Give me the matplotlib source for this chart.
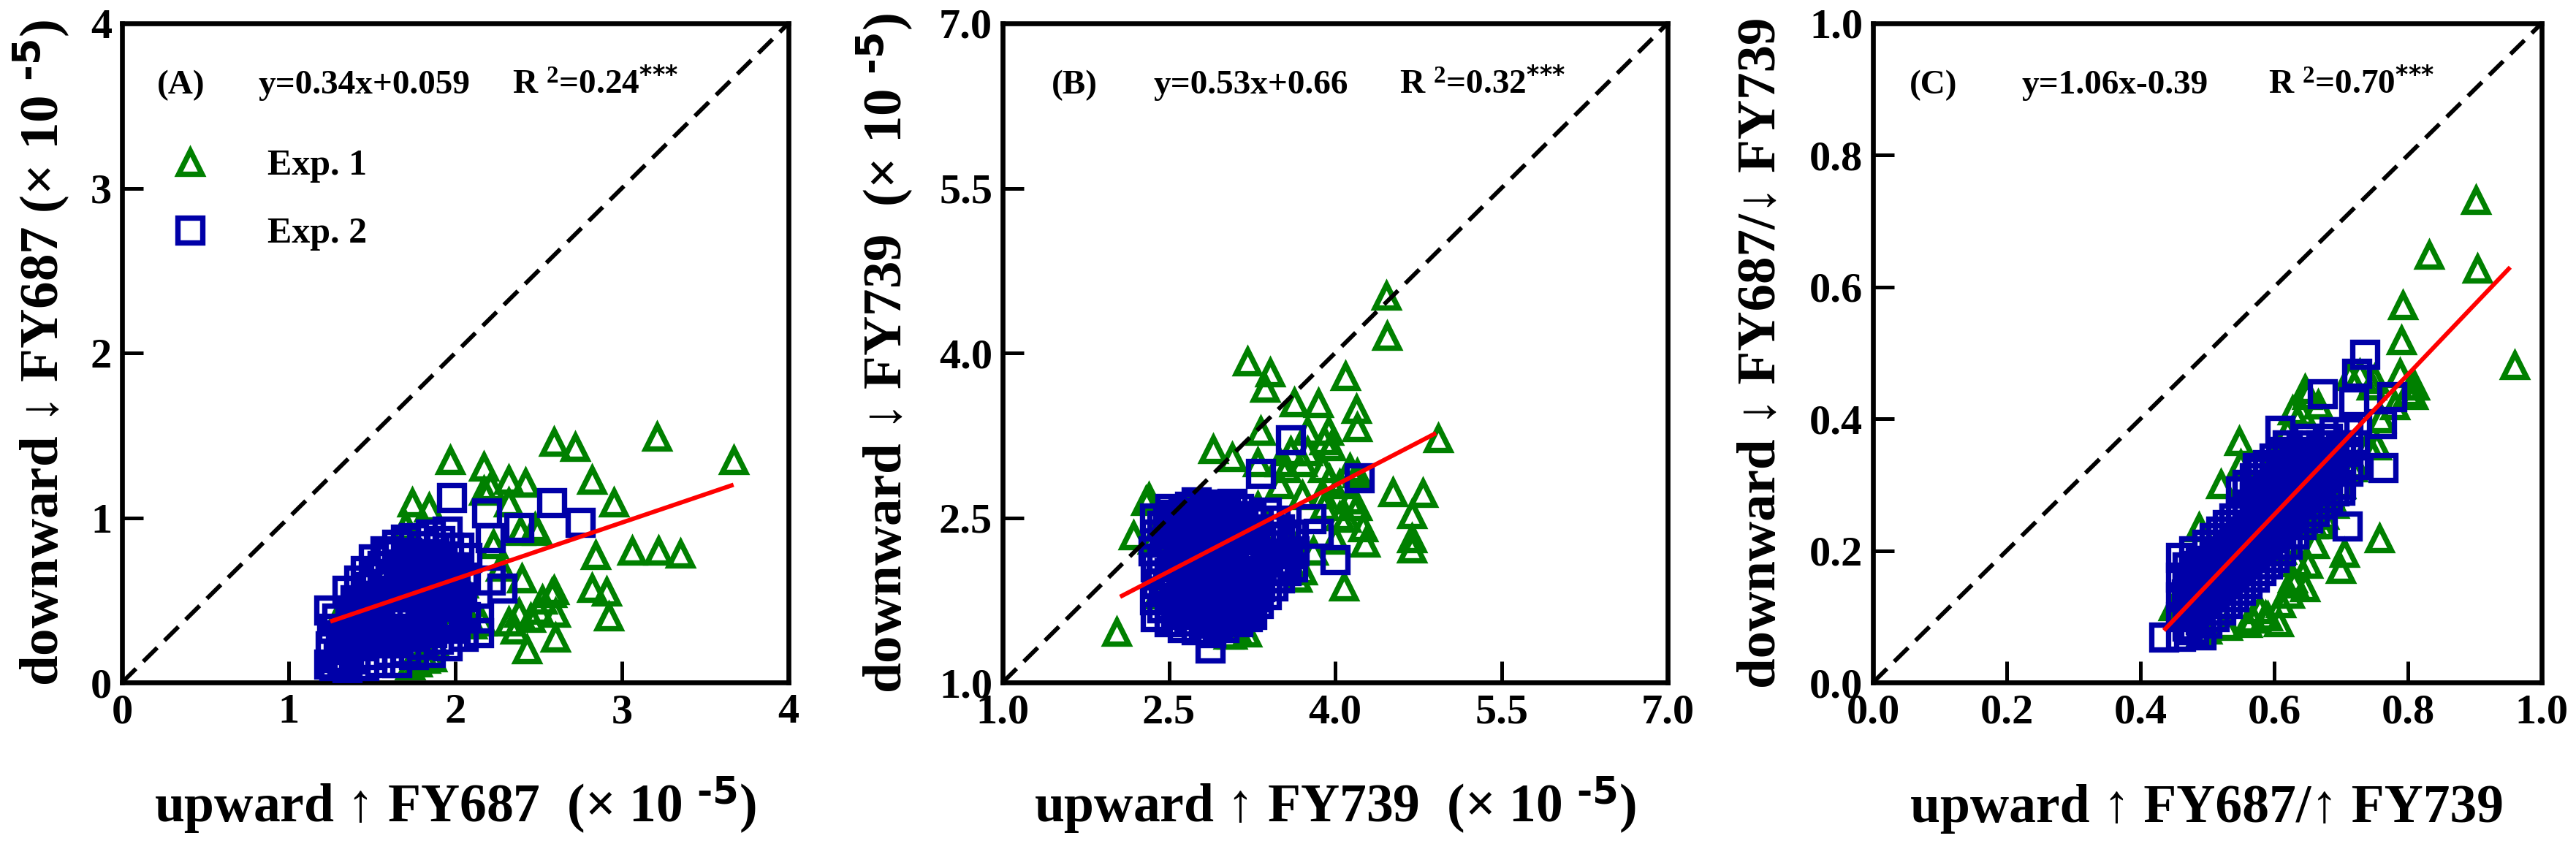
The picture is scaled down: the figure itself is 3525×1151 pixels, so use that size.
import matplotlib
matplotlib.use('Agg')
import matplotlib.pyplot as plt

plt.rcParams['font.family'] = ['Liberation Serif', 'DejaVu Serif']
plt.rcParams['font.weight'] = 'bold'
plt.rcParams['mathtext.default'] = 'regular'

GREEN = '#008000'
BLUE = '#0000a8'

# ---------------- Panel A data ----------------
A_exp1_x = [3.21, 3.67, 2.59, 2.72, 1.97, 2.17, 2.32, 2.42, 2.82, 2.95, 1.74, 1.84,
            3.06, 3.22, 3.35, 2.84, 2.82, 2.91, 2.92, 2.43, 2.60, 2.59, 2.50, 2.40,
            2.48, 2.32, 2.16, 1.73, 1.82, 1.88, 2.17, 2.21, 2.32, 2.23, 2.38, 2.45,
            2.60, 2.58, 2.36, 1.99, 1.77, 1.86, 2.39, 2.49, 1.30, 1.45, 1.60, 1.70,
            2.05, 2.10, 2.27, 2.52]
A_exp1_y = [1.49, 1.35, 1.46, 1.43, 1.35, 1.31, 1.23, 1.21, 1.23, 1.09, 1.09, 1.06,
            0.80, 0.80, 0.78, 0.77, 0.57, 0.55, 0.40, 0.20, 0.27, 0.56, 0.44, 0.63,
            0.94, 0.37, 0.37, 0.10, 0.14, 0.22, 1.16, 1.19, 1.09, 0.84, 0.42, 0.39,
            0.42, 0.54, 0.32, 0.39, 0.12, 0.15, 0.92, 0.92, 0.40, 0.50, 0.70, 0.95,
            0.60, 0.35, 0.70, 0.50]
A_exp2_x = [1.98, 2.19, 2.58, 2.75, 2.38, 2.21, 2.14, 2.14, 2.28, 2.21, 1.24, 1.32,
            1.25, 1.26, 1.24, 1.27,
            1.35, 1.36, 1.34, 1.37, 1.35,
            1.45, 1.44, 1.46, 1.45, 1.47, 1.46,
            1.55, 1.56, 1.54, 1.55, 1.57, 1.56, 1.58,
            1.65, 1.66, 1.64, 1.65, 1.67, 1.66, 1.65,
            1.75, 1.76, 1.74, 1.75, 1.77, 1.76, 1.75,
            1.85, 1.86, 1.84, 1.85, 1.87, 1.86, 1.85,
            1.95, 1.96, 1.94, 1.95, 1.97, 1.96, 1.95,
            2.05, 2.06, 2.04, 2.05, 2.07,
            1.30, 1.31, 1.29,
            1.40, 1.41, 1.39, 1.40, 1.42,
            1.50, 1.51, 1.49, 1.50, 1.52, 1.51,
            1.60, 1.61, 1.59, 1.60, 1.62, 1.61,
            1.70, 1.71, 1.69, 1.70, 1.72, 1.71, 1.70,
            1.80, 1.81, 1.79, 1.80, 1.82, 1.81,
            1.90, 1.91, 1.89, 1.90, 1.92, 1.91,
            2.00, 2.01, 1.99, 2.00, 2.02]
A_exp2_y = [1.12, 1.03, 1.09, 0.97, 0.94, 0.88, 0.39, 0.30, 0.57, 0.62, 0.11, 0.12,
            0.22, 0.33, 0.44, 0.10,
            0.08, 0.20, 0.31, 0.44, 0.56,
            0.10, 0.22, 0.34, 0.46, 0.58, 0.68,
            0.12, 0.24, 0.36, 0.48, 0.60, 0.71, 0.80,
            0.12, 0.24, 0.37, 0.48, 0.60, 0.72, 0.84,
            0.17, 0.28, 0.40, 0.52, 0.64, 0.76, 0.88,
            0.18, 0.30, 0.42, 0.54, 0.66, 0.78, 0.90,
            0.22, 0.34, 0.46, 0.58, 0.70, 0.82, 0.92,
            0.28, 0.40, 0.52, 0.64, 0.76,
            0.15, 0.27, 0.39,
            0.14, 0.26, 0.38, 0.50, 0.62,
            0.17, 0.29, 0.41, 0.53, 0.65, 0.75,
            0.18, 0.30, 0.42, 0.54, 0.66, 0.78,
            0.19, 0.31, 0.43, 0.55, 0.67, 0.79, 0.87,
            0.23, 0.35, 0.47, 0.59, 0.71, 0.83,
            0.26, 0.38, 0.50, 0.62, 0.74, 0.86,
            0.33, 0.46, 0.58, 0.70, 0.82]
A_fit_x = [1.25, 3.67]
A_fit_y = [0.37, 1.20]

# ---------------- Panel B data ----------------
B_exp1_x = [4.46, 4.47, 3.21, 3.41, 3.37, 4.09, 3.63, 3.85, 4.19, 4.20, 3.94, 3.33,
            2.90, 3.07, 2.32, 2.69, 4.93, 4.52, 4.79, 4.69, 4.69, 4.69, 4.25, 4.27,
            4.08, 3.66, 3.70, 3.04, 4.04, 3.75, 3.89, 3.96, 4.04, 3.56, 4.13, 4.13,
            3.89, 3.75, 2.03, 2.29, 2.18, 3.07,
            3.10, 3.30, 3.50, 3.70, 3.90, 4.10, 3.60, 3.80, 4.00, 3.50, 3.70, 3.90,
            3.40, 3.20, 3.00, 2.80, 2.60, 2.90, 3.10, 3.20, 4.20, 4.20, 3.95, 3.60,
            3.30, 2.40, 2.50, 2.70, 2.35]
B_exp1_y = [4.52, 4.15, 3.92, 3.82, 3.68, 3.79, 3.55, 3.54, 3.49, 3.32, 3.29, 3.29,
            3.12, 3.05, 2.68, 2.61, 3.22, 2.73, 2.72, 2.53, 2.31, 2.22, 2.41, 2.27,
            1.87, 1.95, 2.02, 1.43, 2.51, 3.10, 2.95, 3.15, 2.80, 2.95, 2.95, 2.66,
            2.71, 3.29, 1.46, 2.65, 2.34, 1.43,
            2.40, 2.60, 2.80, 2.70, 2.60, 2.50, 2.30, 2.20, 2.30, 3.00, 3.00, 3.20,
            2.20, 2.00, 2.20, 2.00, 1.80, 1.60, 1.50, 1.45, 2.60, 2.90, 2.85, 3.10,
            3.00, 1.80, 2.10, 2.30, 2.30]
B_exp2_x = [3.60, 3.33, 4.22, 4.00, 2.52, 3.07, 3.78, 3.85, 2.87, 3.17, 3.21, 3.09,
            2.38, 2.37, 2.39, 2.38, 2.36, 2.38, 2.37,
            2.50, 2.51, 2.49, 2.50, 2.52, 2.50, 2.49, 2.51,
            2.62, 2.63, 2.61, 2.62, 2.64, 2.62, 2.61, 2.63,
            2.75, 2.76, 2.74, 2.75, 2.77, 2.75, 2.74, 2.76, 2.75,
            2.88, 2.89, 2.87, 2.88, 2.90, 2.88, 2.87, 2.89, 2.88,
            3.00, 3.01, 2.99, 3.00, 3.02, 3.00, 2.99, 3.01,
            3.12, 3.13, 3.11, 3.12, 3.14, 3.12, 3.11, 3.13,
            3.25, 3.26, 3.24, 3.25, 3.27, 3.25, 3.24,
            3.38, 3.39, 3.37, 3.38, 3.40, 3.38,
            3.50, 3.51, 3.49, 3.50,
            3.62, 3.63, 3.61,
            2.44, 2.45, 2.43, 2.44, 2.46, 2.44,
            2.56, 2.57, 2.55, 2.56, 2.58, 2.56, 2.55,
            2.68, 2.69, 2.67, 2.68, 2.70, 2.68, 2.67, 2.69,
            2.81, 2.82, 2.80, 2.81, 2.83, 2.81, 2.80, 2.82,
            2.94, 2.95, 2.93, 2.94, 2.96, 2.94, 2.93, 2.95,
            3.06, 3.07, 3.05, 3.06, 3.08, 3.06, 3.05,
            3.18, 3.19, 3.17, 3.18, 3.20, 3.18, 3.17,
            3.31, 3.32, 3.30, 3.31, 3.33, 3.31,
            3.44, 3.45, 3.43, 3.44, 3.46,
            3.56, 3.57, 3.55]
B_exp2_y = [3.21, 2.90, 2.86, 2.12, 2.53, 2.63, 2.49, 2.36, 1.31, 1.66, 1.60, 1.60,
            1.60, 1.75, 1.90, 2.05, 2.20, 2.35, 2.50,
            1.55, 1.70, 1.85, 2.00, 2.15, 2.30, 2.45, 2.58,
            1.50, 1.65, 1.80, 1.95, 2.10, 2.25, 2.40, 2.55,
            1.48, 1.62, 1.78, 1.92, 2.08, 2.22, 2.38, 2.52, 2.64,
            1.45, 1.60, 1.75, 1.90, 2.05, 2.20, 2.35, 2.50, 2.62,
            1.50, 1.65, 1.80, 1.95, 2.10, 2.25, 2.40, 2.55,
            1.55, 1.70, 1.85, 2.00, 2.15, 2.30, 2.45, 2.58,
            1.62, 1.78, 1.92, 2.08, 2.22, 2.38, 2.52,
            1.80, 1.95, 2.10, 2.25, 2.40, 2.55,
            1.95, 2.10, 2.25, 2.40,
            2.05, 2.20, 2.35,
            1.68, 1.83, 1.98, 2.13, 2.28, 2.43,
            1.62, 1.77, 1.92, 2.07, 2.22, 2.37, 2.50,
            1.56, 1.72, 1.87, 2.02, 2.17, 2.32, 2.47, 2.60,
            1.54, 1.68, 1.84, 1.99, 2.14, 2.29, 2.44, 2.58,
            1.52, 1.68, 1.83, 1.98, 2.13, 2.28, 2.43, 2.58,
            1.58, 1.73, 1.88, 2.03, 2.18, 2.33, 2.48,
            1.62, 1.78, 1.93, 2.08, 2.23, 2.38, 2.52,
            1.72, 1.87, 2.02, 2.17, 2.32, 2.47,
            1.88, 2.03, 2.18, 2.33, 2.48,
            2.02, 2.17, 2.32]
B_fit_x = [2.06, 4.91]
B_fit_y = [1.78, 3.27]

# ---------------- Panel C data ----------------
C_exp1_x = [0.902, 0.832, 0.904, 0.792, 0.790, 0.960, 0.788, 0.808, 0.808, 0.646,
            0.627, 0.548, 0.487, 0.757, 0.700, 0.705, 0.717, 0.753, 0.745, 0.713,
            0.666, 0.587, 0.567, 0.607, 0.627, 0.634, 0.646, 0.528, 0.489, 0.658,
            0.611, 0.449, 0.508, 0.682, 0.623, 0.674, 0.462, 0.578, 0.649, 0.728,
            0.500, 0.530, 0.560, 0.590, 0.610, 0.630, 0.650, 0.660, 0.670, 0.690,
            0.700, 0.720, 0.740, 0.760, 0.780, 0.800, 0.810, 0.750, 0.600, 0.620,
            0.640, 0.520, 0.550]
C_exp1_y = [0.732, 0.649, 0.627, 0.572, 0.519, 0.481, 0.469, 0.450, 0.436, 0.445,
            0.412, 0.366, 0.235, 0.218, 0.172, 0.196, 0.326, 0.359, 0.450, 0.464,
            0.421, 0.101, 0.096, 0.091, 0.158, 0.182, 0.144, 0.086, 0.072, 0.239,
            0.201, 0.115, 0.139, 0.287, 0.134, 0.254, 0.119, 0.111, 0.436, 0.468,
            0.080, 0.085, 0.090, 0.100, 0.120, 0.150, 0.180, 0.210, 0.240, 0.270,
            0.300, 0.330, 0.360, 0.400, 0.420, 0.440, 0.450, 0.460, 0.350, 0.380,
            0.410, 0.300, 0.330]
C_exp2_x = [0.735, 0.723, 0.672, 0.719, 0.776, 0.761, 0.609, 0.763, 0.709, 0.435,
            0.491, 0.698, 0.575, 0.481, 0.469,
            0.46, 0.46, 0.46, 0.46, 0.46,
            0.48, 0.48, 0.48, 0.48, 0.48,
            0.50, 0.50, 0.50, 0.50, 0.50,
            0.52, 0.52, 0.52, 0.52, 0.52,
            0.54, 0.54, 0.54, 0.54, 0.54,
            0.56, 0.56, 0.56, 0.56, 0.56, 0.56,
            0.58, 0.58, 0.58, 0.58, 0.58, 0.58,
            0.60, 0.60, 0.60, 0.60, 0.60, 0.60,
            0.62, 0.62, 0.62, 0.62, 0.62, 0.62,
            0.64, 0.64, 0.64, 0.64, 0.64,
            0.66, 0.66, 0.66, 0.66,
            0.68, 0.68, 0.68, 0.68,
            0.70, 0.70, 0.70,
            0.72, 0.72,
            0.47, 0.47, 0.47, 0.47,
            0.49, 0.49, 0.49, 0.49,
            0.51, 0.51, 0.51, 0.51, 0.51,
            0.53, 0.53, 0.53, 0.53, 0.53,
            0.55, 0.55, 0.55, 0.55, 0.55, 0.55,
            0.57, 0.57, 0.57, 0.57, 0.57, 0.57,
            0.59, 0.59, 0.59, 0.59, 0.59, 0.59,
            0.61, 0.61, 0.61, 0.61, 0.61, 0.61,
            0.63, 0.63, 0.63, 0.63, 0.63,
            0.65, 0.65, 0.65, 0.65, 0.65,
            0.67, 0.67, 0.67, 0.67,
            0.69, 0.69, 0.69, 0.69,
            0.71, 0.71, 0.71]
C_exp2_y = [0.498, 0.469, 0.438, 0.426, 0.433, 0.393, 0.383, 0.326, 0.237, 0.069,
            0.072, 0.292, 0.326, 0.177, 0.134,
            0.07, 0.10, 0.13, 0.16, 0.19,
            0.08, 0.11, 0.14, 0.17, 0.20,
            0.09, 0.12, 0.15, 0.18, 0.21,
            0.11, 0.14, 0.17, 0.20, 0.23,
            0.13, 0.16, 0.19, 0.22, 0.25,
            0.15, 0.18, 0.21, 0.24, 0.27, 0.30,
            0.17, 0.20, 0.23, 0.26, 0.29, 0.32,
            0.19, 0.22, 0.25, 0.28, 0.31, 0.34,
            0.21, 0.24, 0.27, 0.30, 0.33, 0.36,
            0.24, 0.27, 0.30, 0.33, 0.36,
            0.26, 0.29, 0.32, 0.35,
            0.28, 0.31, 0.34, 0.37,
            0.30, 0.33, 0.36,
            0.33, 0.36,
            0.085, 0.115, 0.145, 0.175,
            0.095, 0.125, 0.155, 0.185,
            0.10, 0.13, 0.16, 0.19, 0.22,
            0.12, 0.15, 0.18, 0.21, 0.24,
            0.14, 0.17, 0.20, 0.23, 0.26, 0.29,
            0.16, 0.19, 0.22, 0.25, 0.28, 0.31,
            0.18, 0.21, 0.24, 0.27, 0.30, 0.33,
            0.20, 0.23, 0.26, 0.29, 0.32, 0.35,
            0.225, 0.255, 0.285, 0.315, 0.345,
            0.25, 0.28, 0.31, 0.34, 0.37,
            0.27, 0.30, 0.33, 0.36,
            0.29, 0.32, 0.35, 0.38,
            0.32, 0.35, 0.38]
C_fit_x = [0.435, 0.953]
C_fit_y = [0.079, 0.630]

# ---------------- Axis settings ----------------
A_ticks = [0, 1, 2, 3, 4]
A_ticklabels = ['0', '1', '2', '3', '4']
B_ticks = [1.0, 2.5, 4.0, 5.5, 7.0]
B_ticklabels = ['1.0', '2.5', '4.0', '5.5', '7.0']
C_ticks = [0.0, 0.2, 0.4, 0.6, 0.8, 1.0]
C_ticklabels = ['0.0', '0.2', '0.4', '0.6', '0.8', '1.0']

SUP = r'$^{\text{-5}}$'

panels = [
    dict(pos=[0.04738, 0.1885, 0.25872, 0.7837], lim=(0, 4), ticks=A_ticks, tl=A_ticklabels,
         e1=(A_exp1_x, A_exp1_y), e2=(A_exp2_x, A_exp2_y), fit=(A_fit_x, A_fit_y),
         tag='(A)', eq='y=0.34x+0.059', r2=r'R $^{2}$=0.24$^{\text{***}}$',
         tagx=0.053, eqx=0.205, r2x=0.585, ylx=-0.0954,
         xlabel='upward ↑ FY687  (× 10 ' + SUP + ')',
         ylabel='downward ↓ FY687 (× 10 ' + SUP + ')', legend=True),
    dict(pos=[0.38922, 0.1885, 0.25816, 0.7837], lim=(1, 7), ticks=B_ticks, tl=B_ticklabels,
         e1=(B_exp1_x, B_exp1_y), e2=(B_exp2_x, B_exp2_y), fit=(B_fit_x, B_fit_y),
         tag='(B)', eq='y=0.53x+0.66', r2=r'R $^{2}$=0.32$^{\text{***}}$',
         tagx=0.074, eqx=0.227, r2x=0.597, ylx=-0.1516,
         xlabel='upward ↑ FY739  (× 10 ' + SUP + ')',
         ylabel='downward ↓ FY739  (× 10 ' + SUP + ')', legend=False),
    dict(pos=[0.72709, 0.1885, 0.25957, 0.7837], lim=(0, 1), ticks=C_ticks, tl=C_ticklabels,
         e1=(C_exp1_x, C_exp1_y), e2=(C_exp2_x, C_exp2_y), fit=(C_fit_x, C_fit_y),
         tag='(C)', eq='y=1.06x-0.39', r2=r'R $^{2}$=0.70$^{\text{***}}$',
         tagx=0.054, eqx=0.222, r2x=0.591, ylx=-0.1464,
         xlabel='upward ↑ FY687/↑ FY739',
         ylabel='downward ↓ FY687/↓ FY739', legend=False),
]

fig = plt.figure(figsize=(35.25, 11.51), dpi=100)

for p in panels:
    ax = fig.add_axes(p['pos'])
    lo, hi = p['lim']
    ax.set_xlim(lo, hi)
    ax.set_ylim(lo, hi)
    ax.plot(p['e1'][0], p['e1'][1], linestyle='none', marker='^', markersize=23.5,
            markerfacecolor='none', markeredgecolor=GREEN, markeredgewidth=5.3,
            label='Exp. 1', zorder=2)
    ax.plot(p['e2'][0], p['e2'][1], linestyle='none', marker='s', markersize=25,
            markerfacecolor='none', markeredgecolor=BLUE, markeredgewidth=5.3,
            label='Exp. 2', zorder=3)
    ax.plot(p['fit'][0], p['fit'][1], color='#ff0000', linewidth=4.3, zorder=5,
            solid_capstyle='butt')
    ax.plot([lo, hi], [lo, hi], color='black', linewidth=4.2, linestyle=(0, (4.6, 2.4)),
            zorder=4)
    for s in ax.spines.values():
        s.set_linewidth(4.8)
    ax.set_xticks(p['ticks'])
    ax.set_yticks(p['ticks'])
    ax.set_xticklabels(p['tl'])
    ax.set_yticklabels(p['tl'])
    ax.tick_params(direction='in', length=21, width=3.6, top=False, right=False,
                   labelsize=42)
    ax.tick_params(axis='x', pad=11)
    ax.tick_params(axis='y', pad=10)
    ax.set_xlabel(p['xlabel'], fontsize=53, fontweight='bold')
    ax.set_ylabel(p['ylabel'], fontsize=54, fontweight='bold')
    ax.xaxis.label.set_verticalalignment('baseline')
    ax.yaxis.label.set_verticalalignment('baseline')
    ax.xaxis.set_label_coords(0.5, -0.2118)
    ax.yaxis.set_label_coords(p['ylx'], 0.5)
    ax.text(p['tagx'], 0.906, p['tag'], transform=ax.transAxes, fontsize=34,
            fontweight='bold', va='center', ha='left')
    ax.text(p['eqx'], 0.906, p['eq'], transform=ax.transAxes, fontsize=34,
            fontweight='bold', va='center', ha='left')
    ax.text(p['r2x'], 0.906, p['r2'], transform=ax.transAxes, fontsize=34,
            fontweight='bold', va='center', ha='left')
    if p['legend']:
        ax.legend(loc='upper left', bbox_to_anchor=(0.0746, 0.809), frameon=False,
                  fontsize=36, handlelength=1.0, handletextpad=1.62, labelspacing=0.94,
                  markerscale=1.0, borderaxespad=0, borderpad=0)

fig.savefig('out.png', dpi=100)
